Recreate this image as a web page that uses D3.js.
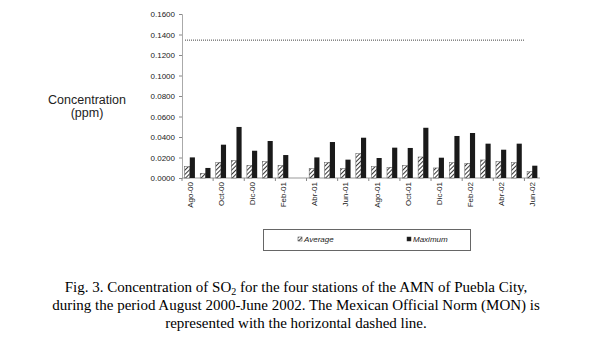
<!DOCTYPE html>
<html>
<head>
<meta charset="utf-8">
<script src="https://cdn.jsdelivr.net/npm/d3@7"></script>
<style>
  body { margin: 0; background: #fff; }
  svg { display: block; }
</style>
</head>
<body>
<svg id="chart"></svg>
<script>
// months Aug 2000 - Jun 2002 (Spanish abbreviations as in the figure)
const months = ["Ago-00","Sep-00","Oct-00","Nov-00","Dic-00","Ene-01","Feb-01","Mar-01","Abr-01","May-01","Jun-01","Jul-01",
                "Ago-01","Sep-01","Oct-01","Nov-01","Dic-01","Ene-02","Feb-02","Mar-02","Abr-02","May-02","Jun-02"]
const average = [0.0110, 0.0045, 0.0152, 0.0169, 0.0123, 0.0159, 0.0123, null, 0.0091, 0.0152, 0.0091, 0.0238,
                 0.0110, 0.0104, 0.0120, 0.0205, 0.0098, 0.0149, 0.0143, 0.0176, 0.0159, 0.0149, 0.0061]
const maximum = [0.0201, 0.0098, 0.0325, 0.0498, 0.0266, 0.0361, 0.0224, null, 0.0201, 0.0351, 0.0179, 0.0393,
                 0.0195, 0.0296, 0.0293, 0.0490, 0.0198, 0.0410, 0.0439, 0.0335, 0.0276, 0.0335, 0.0120]
const seriesNames = ["Average", "Maximum"]
const yTicks = [0, 0.02, 0.04, 0.06, 0.08, 0.10, 0.12, 0.14, 0.16]
const normValue = 0.1345
const captionLines = [
    ["Fig. 3. Concentration of SO", "2", " for the four stations of the AMN of Puebla City,"],
    ["during the period August 2000-June 2002. The Mexican Official Norm (MON) is"],
    ["represented with the horizontal dashed line."]
]

const width = 599, height = 342
const margins = {left: 182, right: 59, top: 14, bottom: 164}

const svg = d3.select("#chart").attr("width", width).attr("height", height)

const defs = svg.append("defs")
const pat = defs.append("pattern").attr("id", "hatch")
    .attr("patternUnits", "userSpaceOnUse").attr("width", 3).attr("height", 3)
    .attr("patternTransform", "rotate(45)")
pat.append("rect").attr("width", 3).attr("height", 3).attr("fill", "#fff")
pat.append("line").attr("x1", 0).attr("y1", 0).attr("x2", 0).attr("y2", 3)
    .attr("stroke", "#222").attr("stroke-width", 1.8)

const scaleX = d3.scaleBand().domain(months)
    .range([margins.left, width - margins.right])
    .paddingInner(0.34).paddingOuter(0.17)
const scaleSub = d3.scaleBand().domain(seriesNames).range([0, scaleX.bandwidth()])
const scaleY = d3.scaleLinear().domain([0, 0.16]).range([height - margins.bottom, margins.top])

const font = "'Liberation Sans', Arial, sans-serif"

// y axis
const yAxis = d3.axisLeft(scaleY).tickValues(yTicks).tickFormat(d3.format(".4f")).tickSize(3).tickPadding(4)
const yG = svg.append("g").attr("transform", `translate(${margins.left},0)`).call(yAxis)
yG.select(".domain").attr("stroke", "#aaa")
yG.selectAll(".tick line").attr("stroke", "#888")
yG.selectAll("text").attr("font-family", font).attr("font-size", 8).attr("fill", "#222")

// x axis: ticks every two categories, labels on every other month
const step = scaleX.step()
const x0 = margins.left
const xG = svg.append("g")
xG.append("line")
    .attr("x1", x0).attr("x2", width - margins.right)
    .attr("y1", scaleY(0)).attr("y2", scaleY(0))
    .attr("stroke", "#999").attr("stroke-width", 1)
xG.selectAll(".xtick")
    .data(d3.range(0, months.length + 1, 2))
    .join("line")
    .attr("class", "xtick")
    .attr("x1", k => x0 + k * step).attr("x2", k => x0 + k * step)
    .attr("y1", scaleY(0)).attr("y2", scaleY(0) + 3)
    .attr("stroke", "#888")
xG.selectAll(".xlabel")
    .data(months.filter((d, i) => i % 2 === 0))
    .join("text")
    .attr("class", "xlabel")
    .text(d => d)
    .attr("transform", d => `translate(${scaleX(d) + scaleX.bandwidth() / 2 + 3}, ${scaleY(0) + 4}) rotate(-90)`)
    .attr("text-anchor", "end")
    .attr("font-family", font).attr("font-size", 8).attr("fill", "#222")

// bars
const rows = months.map((m, i) => ({month: m, values: [
    {key: "Average", value: average[i]},
    {key: "Maximum", value: maximum[i]}
]}))
const groups = svg.append("g").selectAll("g")
    .data(rows)
    .join("g")
    .attr("transform", d => `translate(${scaleX(d.month)},0)`)
groups.selectAll("rect")
    .data(d => d.values.filter(v => v.value !== null))
    .join("rect")
    .attr("x", d => scaleSub(d.key))
    .attr("width", scaleSub.bandwidth())
    .attr("y", d => scaleY(d.value))
    .attr("height", d => scaleY(0) - scaleY(d.value))
    .attr("fill", d => d.key === "Average" ? "url(#hatch)" : "#1a1a1a")
    .attr("stroke", d => d.key === "Average" ? "#555" : "none")
    .attr("stroke-width", 0.5)

// norm line
svg.append("line")
    .attr("x1", margins.left + 3).attr("x2", width - margins.right - 15)
    .attr("y1", scaleY(normValue)).attr("y2", scaleY(normValue))
    .attr("stroke", "#444").attr("stroke-width", 1).attr("stroke-dasharray", "1,1")

// y axis title
const yTitle = svg.append("text").attr("font-family", font).attr("font-size", 12.5).attr("fill", "#222")
    .attr("text-anchor", "middle")
yTitle.append("tspan").attr("x", 87).attr("y", 104).text("Concentration")
yTitle.append("tspan").attr("x", 87).attr("y", 117).text("(ppm)")

// legend
const legend = svg.append("g")
legend.append("rect").attr("x", 263.5).attr("y", 229.5).attr("width", 207).attr("height", 21)
    .attr("fill", "none").attr("stroke", "#666").attr("stroke-width", 1)
const legendItems = [{key: "Average", x: 298}, {key: "Maximum", x: 407}]
legendItems.forEach(d => {
    legend.append("rect").attr("x", d.x).attr("y", 237).attr("width", 4).attr("height", 4)
        .attr("fill", d.key === "Average" ? "url(#hatch)" : "#1a1a1a")
        .attr("stroke", "#333").attr("stroke-width", 0.5)
    legend.append("text").text(d.key).attr("x", d.x + 6).attr("y", 242)
        .attr("font-family", font).attr("font-size", 8).attr("font-style", "italic").attr("fill", "#222")
})

// caption
const cap = svg.append("text").attr("font-family", "'Liberation Serif', 'Times New Roman', serif")
    .attr("font-size", 15).attr("fill", "#000").attr("text-anchor", "middle")
const capY = [292, 310, 328]
captionLines.forEach((parts, i) => {
    const line = cap.append("tspan").attr("x", 296).attr("y", capY[i])
    if (parts.length === 3) {
        line.text(parts[0])
        line.append("tspan").attr("font-size", 10).attr("dy", 3).text(parts[1])
        line.append("tspan").attr("dy", -3).text(parts[2])
    } else {
        line.text(parts[0])
    }
})
</script>
</body>
</html>
